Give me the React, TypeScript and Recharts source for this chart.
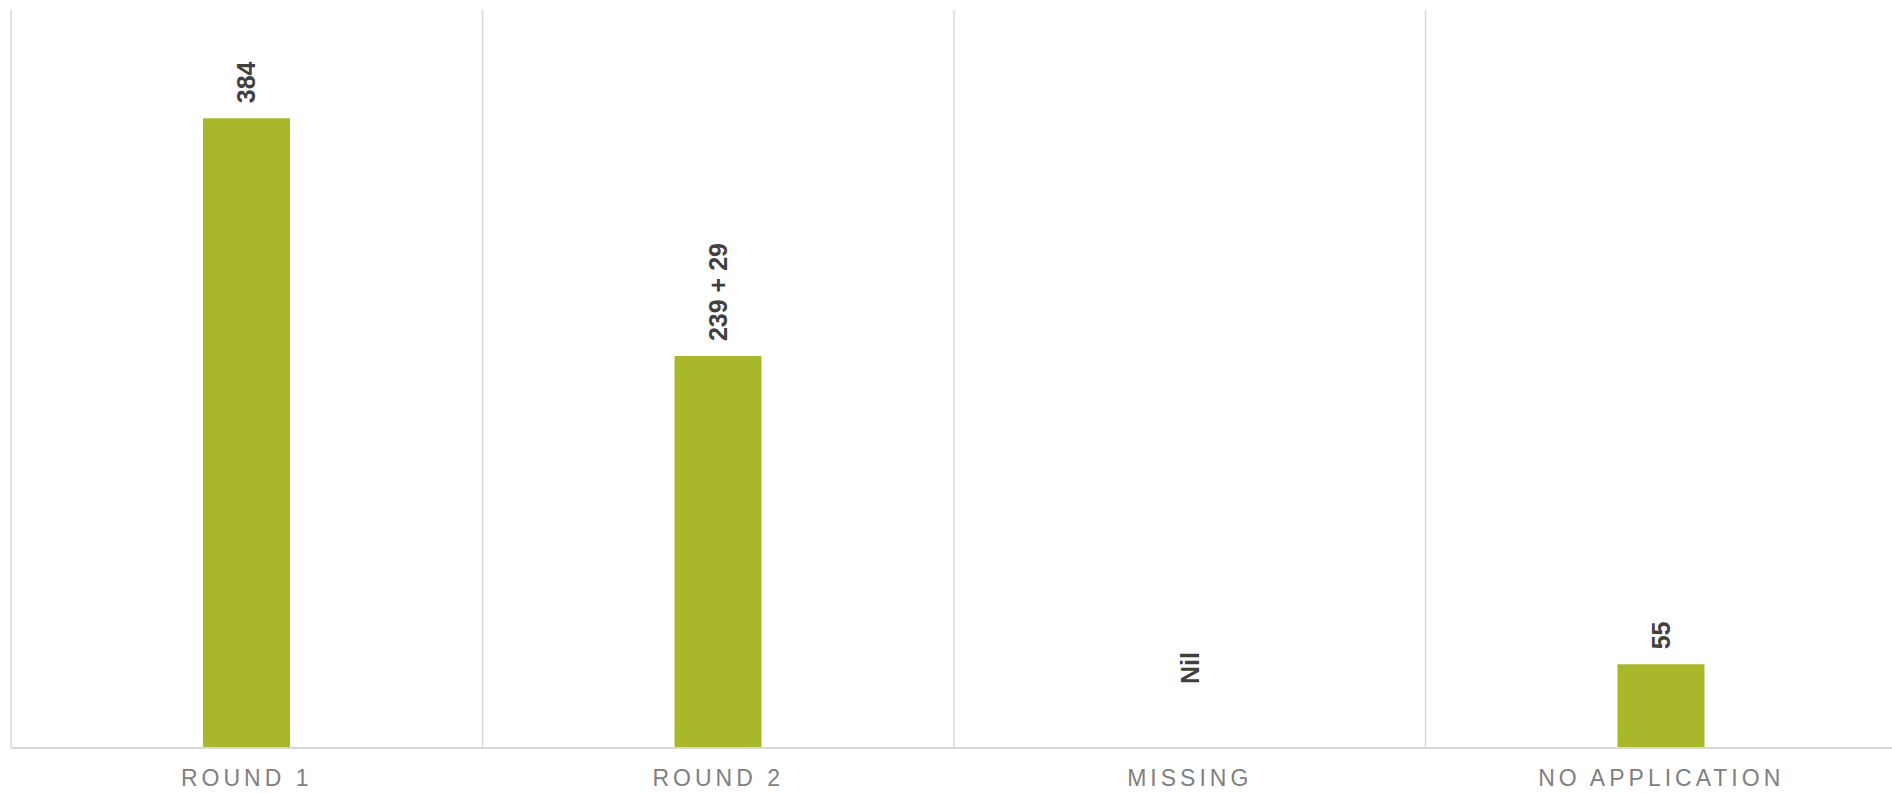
import React from "react";
import { BarChart, Bar, XAxis, YAxis, CartesianGrid, LabelList, ReferenceDot } from "recharts";

const categories = ["ROUND 1", "ROUND 2", "MISSING", "NO APPLICATION"];
const applicants = [384, 239, 0, 51];
const labelTexts = ["384", "239 + 29", "Nil", "55"];
const yDomain: [number, number] = [0, 450];

const data = categories.map((name, i) => ({ name, value: applicants[i], label: labelTexts[i] }));

const FONT = "'Liberation Sans', Arial, sans-serif";

const RotLabel = ({ cx, by, text }: { cx: number; by: number; text: string }) => (
  <text
    x={cx}
    y={by}
    transform={`rotate(-90, ${cx}, ${by})`}
    textAnchor="start"
    dominantBaseline="central"
    fill="#404040"
    fontFamily={FONT}
    fontWeight="bold"
    fontSize={25}
  >
    {text}
  </text>
);

const ValueLabel = (props: any) => {
  const { x, y, width, height, value } = props;
  if (!height || Math.abs(Number(height)) < 0.5) return null;
  const cx = Number(x) + Number(width) / 2;
  return <RotLabel cx={cx} by={Number(y) - 15} text={String(value)} />;
};

const CategoryTick = (props: any) => {
  const { x, y, payload } = props;
  return (
    <text
      x={x}
      y={y}
      dy="0.71em"
      textAnchor="middle"
      fill="#808080"
      fontFamily={FONT}
      fontSize={23}
      letterSpacing={4}
    >
      {payload.value}
    </text>
  );
};

export default function App() {
  return (
    <div style={{ position: "fixed", left: 0, top: 0, width: 1892, height: 794, overflow: "hidden", background: "#fff" }}>
      <BarChart
        width={1900}
        height={794}
        data={data}
        margin={{ top: 10, right: 3, bottom: 0, left: 11 }}
      >
        <CartesianGrid
          horizontal={false}
          vertical={true}
          stroke="#d9d9d9"
          strokeWidth={1.5}
          verticalCoordinatesGenerator={(p: any) => {
            const off = p.offset || { left: 11, width: 1886 };
            return categories
              .map((_, i) => off.left + (i * off.width) / categories.length)
              .concat([off.left + off.width]);
          }}
        />
        <XAxis
          dataKey="name"
          tickLine={false}
          tickSize={0}
          tickMargin={22}
          height={46}
          axisLine={{ stroke: "#d9d9d9", strokeWidth: 2 }}
          tick={<CategoryTick />}
          interval={0}
        />
        <YAxis hide domain={yDomain} />
        <Bar dataKey="value" fill="#a8b82a" barSize={87} isAnimationActive={false}>
          <LabelList dataKey="label" content={<ValueLabel />} />
        </Bar>
        {data
          .filter((d) => d.value === 0)
          .map((d) => (
            <ReferenceDot
              key={d.name}
              x={d.name}
              y={d.value}
              r={0}
              isFront
              shape={(p: any) => <RotLabel cx={Number(p.cx)} by={Number(p.cy) - 64} text={d.label} />}
            />
          ))}
      </BarChart>
    </div>
  );
}
